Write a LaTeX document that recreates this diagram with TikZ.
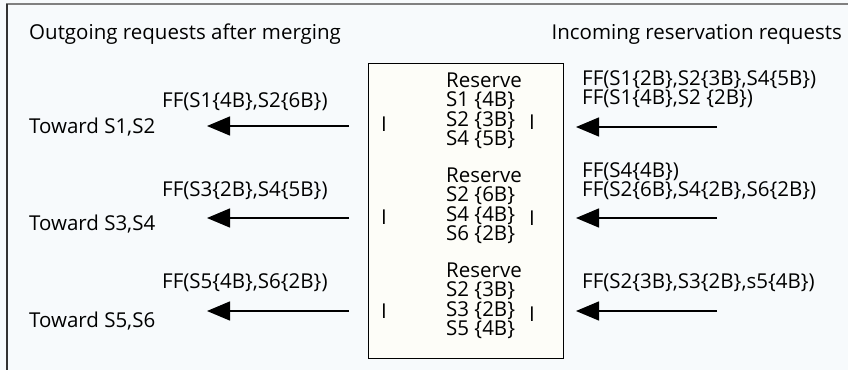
\documentclass[tikz,border=0pt]{standalone}
\usepackage{fontspec}
\setmainfont{Open Sans}
\usetikzlibrary{arrows.meta}
\definecolor{bgc}{HTML}{F7FAFC}
\definecolor{boxc}{HTML}{FDFDF8}
\definecolor{topc}{HTML}{808080}
\definecolor{leftc}{HTML}{333333}
\begin{document}
\begin{tikzpicture}[x=1pt,y=-1pt,
  txt/.style={anchor=base west, inner sep=0pt, font=\fontsize{20.5}{20.5}\selectfont},
  txtr/.style={txt, anchor=base east},
  flow/.style={line width=1.4pt, -{Triangle[length=23pt,width=19pt]}},
]
\fill[bgc] (0,0) rectangle (848,370);
\useasboundingbox (0,0) rectangle (848,370);
\draw[topc, line width=2pt] (6,4) -- (848,4);
\draw[leftc, line width=2pt] (7,4) -- (7,370);
\node[draw, fill=boxc, line width=1pt, minimum width=195pt, minimum height=295pt, anchor=north west, inner sep=0pt] (box) at (367.5,63) {};

% titles
\node[txt] (tout) at (29,39) {Outgoing requests after merging};
\node[txtr] (tin) at (842,39) {Incoming reservation requests};

% box contents
\node[txt] (r1) at (446,87) {Reserve};
\node[txt] (r1a) at (446,106.5) {S1 \{4B\}};
\node[txt] (r1b) at (446,126) {S2 \{3B\}};
\node[txt] (r1c) at (446,145.5) {S4 \{5B\}};
\node[txt] (r2) at (446,182) {Reserve};
\node[txt] (r2a) at (446,201.5) {S2 \{6B\}};
\node[txt] (r2b) at (446,221) {S4 \{4B\}};
\node[txt] (r2c) at (446,240.5) {S6 \{2B\}};
\node[txt] (r3) at (446,277) {Reserve};
\node[txt] (r3a) at (446,296.5) {S2 \{3B\}};
\node[txt] (r3b) at (446,316) {S3 \{2B\}};
\node[txt] (r3c) at (446,335.5) {S5 \{4B\}};

% I marks
\node[txt] (il1) at (381,131) {I};
\node[txt] (ir1) at (529,129) {I};
\node[txt] (il2) at (381,224) {I};
\node[txt] (ir2) at (529,225) {I};
\node[txt] (il3) at (381,318) {I};
\node[txt] (ir3) at (529,321) {I};

% left texts
\node[txt] (lf1) at (162,107) {FF(S1\{4B\},S2\{6B\})};
\node[txt] (to1) at (29,133) {Toward S1,S2};
\node[txt] (lf2) at (162,196) {FF(S3\{2B\},S4\{5B\})};
\node[txt] (to2) at (29,230) {Toward S3,S4};
\node[txt] (lf3) at (162,288) {FF(S5\{4B\},S6\{2B\})};
\node[txt] (to3) at (29,327) {Toward S5,S6};

% right texts
\node[txt] (rf1) at (582,85) {FF(S1\{2B\},S2\{3B\},S4\{5B\})};
\node[txt] (rf1b) at (582,104.5) {FF(S1\{4B\},S2 \{2B\})};
\node[txt] (rf2) at (582,177) {FF(S4\{4B\})};
\node[txt] (rf2b) at (582,196.5) {FF(S2\{6B\},S4\{2B\},S6\{2B\})};
\node[txt] (rf3) at (582,288) {FF(S2\{3B\},S3\{2B\},s5\{4B\})};

% arrows
\coordinate (la1s) at (349,126); \coordinate (la1e) at (207,126);
\coordinate (la2s) at (349,218); \coordinate (la2e) at (207,218);
\coordinate (la3s) at (349,311); \coordinate (la3e) at (207,311);
\coordinate (ra1s) at (717,127); \coordinate (ra1e) at (576,127);
\coordinate (ra2s) at (717,218); \coordinate (ra2e) at (576,218);
\coordinate (ra3s) at (717,311); \coordinate (ra3e) at (576,311);
\draw[flow] (la1s) -- (la1e);
\draw[flow] (la2s) -- (la2e);
\draw[flow] (la3s) -- (la3e);
\draw[flow] (ra1s) -- (ra1e);
\draw[flow] (ra2s) -- (ra2e);
\draw[flow] (ra3s) -- (ra3e);
\end{tikzpicture}
\end{document}
